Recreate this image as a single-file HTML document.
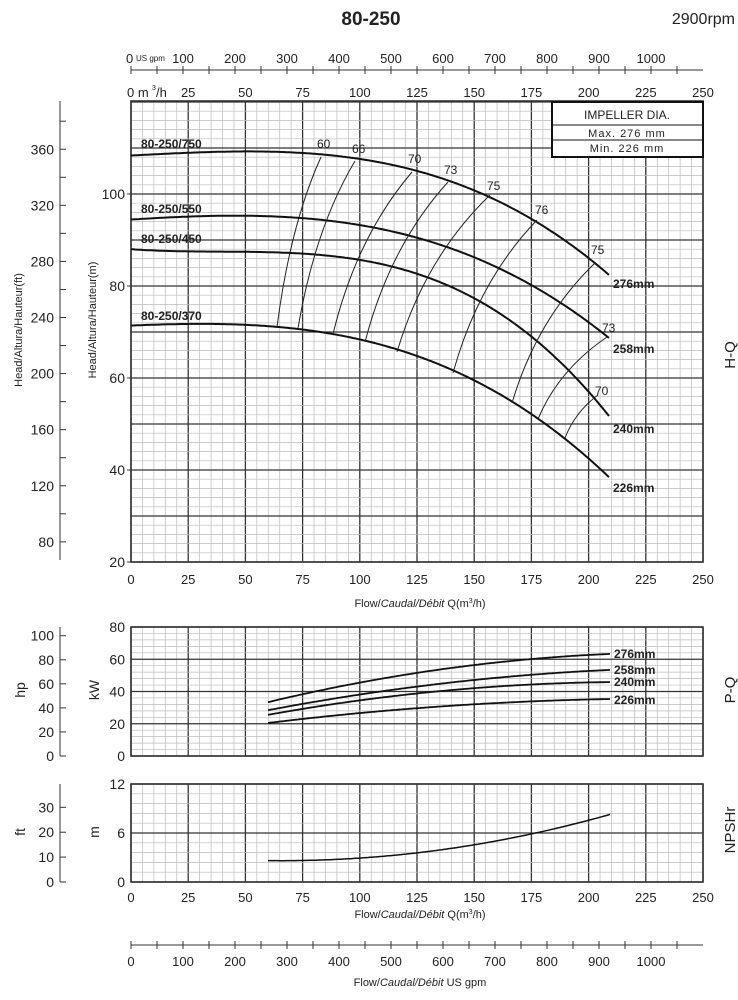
<!DOCTYPE html>
<html><head><meta charset="utf-8"><style>
html,body{margin:0;padding:0;background:#fff}
svg{display:block;font-family:"Liberation Sans",sans-serif}
</style></head><body>
<svg id="s" width="738" height="1000" viewBox="0 0 738 1000" xmlns="http://www.w3.org/2000/svg">
<g id="grid"></g>
<g id="curves" fill="none" stroke="#111" stroke-width="2"></g>
<g id="eff" fill="none" stroke="#222" stroke-width="1"></g>
<g id="txt" fill="#222"></g>
</svg>
<script>
const NS="http://www.w3.org/2000/svg";
function el(p,t,a,txt){const e=document.createElementNS(NS,t);for(const k in a)e.setAttribute(k,a[k]);if(txt!==undefined)e.textContent=txt;document.getElementById(p).appendChild(e);return e;}
function line(p,x1,y1,x2,y2,c,w){el(p,'line',{x1,y1,x2,y2,stroke:c,'stroke-width':w});}
const X0=131,X1=703,px=(X1-X0)/250;
function qx(q){return X0+q*px;}
function grid(top,bot,nMinorY,majorEvery){
  for(let q=0;q<=250;q+=5){const x=qx(q);const maj=q%25==0;line('grid',x,top,x,bot,maj?'#333':'#bbb',maj?1.3:0.7);}
  const h=bot-top;
  for(let i=0;i<=nMinorY;i++){const y=bot-h*i/nMinorY;const maj=i%majorEvery==0;line('grid',X0,y,X1,y,maj?'#333':'#bbb',maj?1.3:0.7);}
  el('grid','rect',{x:X0,y:top,width:X1-X0,height:bot-top,fill:'none',stroke:'#333','stroke-width':1.6});
}
const hy=m=>562-(m-20)*4.6;
(function(){
  for(let q=0;q<=250;q+=5){const x=qx(q);const maj=q%25==0;line('grid',x,101,x,562,maj?'#333':'#bbb',maj?1.3:0.7);}
  for(let m=20;m<=120;m+=2){const y=hy(m);const maj=m%10==0;line('grid',X0,y,X1,y,maj?'#333':'#bbb',maj?1.3:0.7);}
  el('grid','rect',{x:X0,y:101,width:X1-X0,height:461,fill:'none',stroke:'#333','stroke-width':1.6});
})();
grid(627,756,20,5);
grid(784,882,10,5);
function qlabels(y){for(let q=0;q<=250;q+=25)el('txt','text',{x:qx(q),y:y,'text-anchor':'middle','font-size':13},q);}
qlabels(584);qlabels(902);
el('txt','text',{x:127,y:97,'font-size':13},'0 m');el('txt','text',{x:152,y:90,'font-size':7},'3');el('txt','text',{x:156,y:97,'font-size':13},'/h');
for(let q=25;q<=250;q+=25)el('txt','text',{x:qx(q),y:97,'text-anchor':'middle','font-size':13},q);
function gpm(y,ly,top){line('txt',X0,y,X1,y,'#333',1);
  for(let g=0;g<=1050;g+=50){const x=X0+g*0.52;line('txt',x,y-4,x,y+4,'#333',1);}
  for(let g=0;g<=1000;g+=100){if(top&&g==0)continue;el('txt','text',{x:X0+g*0.52,y:ly,'text-anchor':'middle','font-size':13},g);}
}
gpm(70,63,true);gpm(945,966,false);
el('txt','text',{x:126,y:63,'font-size':13},'0');el('txt','text',{x:136,y:61,'font-size':8},'US gpm');
line('txt',60,101,60,560,'#333',1);
for(let ft=80;ft<=380;ft+=20){const y=hy(ft*0.3048);if(y<101)continue;line('txt',60,y,66,y,'#333',1);if(ft%40==0)el('txt','text',{x:54,y:y+5,'text-anchor':'end','font-size':14},ft);}
for(let m=20;m<=100;m+=20){const y=hy(m);line('txt',127,y,131,y,'#333',1);el('txt','text',{x:125,y:y+5,'text-anchor':'end','font-size':14},m);}
line('txt',60,627,60,756,'#333',1);
for(let hp=0;hp<=100;hp+=20){const y=756-hp*0.746*1.6125;line('txt',60,y,66,y,'#333',1);el('txt','text',{x:54,y:y+5,'text-anchor':'end','font-size':14},hp);}
for(let k=0;k<=80;k+=20){const y=756-k*1.6125;el('txt','text',{x:125,y:y+5,'text-anchor':'end','font-size':14},k);}
line('txt',60,784,60,882,'#333',1);
for(let f=0;f<=30;f+=10){const y=882-f*0.3048*8.167;line('txt',60,y,66,y,'#333',1);el('txt','text',{x:54,y:y+5,'text-anchor':'end','font-size':14},f);}
[[0,882],[6,833],[12,784]].forEach(a=>el('txt','text',{x:125,y:a[1]+5,'text-anchor':'end','font-size':14},a[0]));
function rot(x,y,t,fs){el('txt','text',{x:0,y:0,transform:`translate(${x},${y}) rotate(-90)`,'text-anchor':'middle','font-size':fs},t);}
rot(22,330,'Head/Altura/Hauteur(ft)',11);rot(96,320,'Head/Altura/Hauteur(m)',11);
rot(25,690,'hp',14);rot(99,690,'kW',14);rot(25,832,'ft',14);rot(99,832,'m',14);
rot(735,355,'H-Q',15);rot(735,690,'P-Q',15);rot(735,830,'NPSHr',15);
function flow(y,unit){el('txt','text',{x:420,y:y,'text-anchor':'middle','font-size':11},'').innerHTML=unit;}
flow(607,'Flow/<tspan font-style="italic">Caudal/Débit</tspan> Q(m<tspan font-size="7" dy="-4">3</tspan><tspan dy="4">/h)</tspan>');
flow(918,'Flow/<tspan font-style="italic">Caudal/Débit</tspan> Q(m<tspan font-size="7" dy="-4">3</tspan><tspan dy="4">/h)</tspan>');
flow(986,'Flow/<tspan font-style="italic">Caudal/Débit</tspan>  US gpm');
el('txt','text',{x:371,y:25,'text-anchor':'middle','font-size':19,'font-weight':'bold'},'80-250');
el('txt','text',{x:735,y:24,'text-anchor':'end','font-size':16},'2900rpm');
el('txt','rect',{x:552,y:102,width:151,height:55,fill:'#fff',stroke:'#111','stroke-width':2});
line('txt',552,125,703,125,'#111',1);line('txt',552,140,703,140,'#111',1);
el('txt','text',{x:627,y:119,'text-anchor':'middle','font-size':12},'IMPELLER DIA.');
el('txt','text',{x:627,y:137,'text-anchor':'middle','font-size':11,'letter-spacing':'1'},'Max. 276 mm');
el('txt','text',{x:627,y:152,'text-anchor':'middle','font-size':11,'letter-spacing':'1'},'Min.  226 mm');
// least-squares cubic fit y(x)
function fit(pts,deg){const n=deg+1;const A=[...Array(n)].map(()=>Array(n+1).fill(0));
 const x0=pts[0][0];
 pts.forEach(([x,y])=>{const u=(x-x0)/100;for(let i=0;i<n;i++){for(let j=0;j<n;j++)A[i][j]+=Math.pow(u,i+j);A[i][n]+=y*Math.pow(u,i);}});
 for(let i=0;i<n;i++){let p=i;for(let r=i+1;r<n;r++)if(Math.abs(A[r][i])>Math.abs(A[p][i]))p=r;[A[i],A[p]]=[A[p],A[i]];
  for(let r=0;r<n;r++)if(r!=i){const f=A[r][i]/A[i][i];for(let c=i;c<=n;c++)A[r][c]-=f*A[i][c];}}
 const co=A.map((r,i)=>r[n]/r[i]);
 const xs=pts[0][0],xe=pts[pts.length-1][0];let d='';
 for(let x=xs;x<=xe+0.01;x+=2){const u=(x-x0)/100;let y=0;co.forEach((c,i)=>y+=c*Math.pow(u,i));d+=(d?' L':'M')+x.toFixed(1)+','+y.toFixed(1);}
 return d;}
const C=[
 [[131,156],[250,150],[320,153],[370,162],[412,172],[448,182],[490,195],[537,220],[578,250],[610,277]],
 [[131,220],[188,216],[290,217],[330,220],[372,229],[430,241],[530,287],[577,308],[610,342]],
 [[131,251],[188,249],[250,250],[300,254],[360,263],[430,279],[530,333],[580,380],[610,420]],
 [[131,326],[188,323],[250,325],[300,330],[360,340],[400,350],[430,361],[470,377],[530,413],[580,453],[610,477]]];
C.forEach(p=>el('curves','path',{d:fit(p,3)}));
const P=[[[268,702],[360,683],[480,664],[610,654]],[[268,710],[360,695],[480,679],[610,670]],[[268,715],[360,700],[480,688],[610,682]],[[268,723],[360,713],[480,704],[610,699]]];
P.forEach(p=>el('curves','path',{d:fit(p,2),'stroke-width':1.8}));
el('curves','path',{d:fit([[268,861],[360,857],[418,853],[473,845],[530,835],[582,822],[610,814]],2),'stroke-width':1.5});
const E=[[[277,327],[321,157]],[[298,328],[355,161]],[[333,334],[412,172]],[[365,342],[448,182]],[[397,352],[490,195]],[[453,373],[537,220]],[[512,403],[595,263]],[[538,419],[607,337]],[[565,438],[598,395]]];
E.forEach(([b,t])=>{const cx=b[0]+0.3*(t[0]-b[0]),cy=b[1]-0.6*(b[1]-t[1]);el('eff','path',{d:`M${b[0]},${b[1]} Q${cx},${cy} ${t[0]},${t[1]}`});});
[[323,148,60],[358,153,66],[414,163,70],[450,174,73],[493,190,75],[541,214,76],[597,254,75],[608,332,73],[601,395,70]].forEach(a=>el('txt','text',{x:a[0]-6,y:a[1],'font-size':12},a[2]));
[[141,148,'80-250/750'],[141,213,'80-250/550'],[141,243,'80-250/450'],[141,320,'80-250/370']].forEach(a=>el('txt','text',{x:a[0],y:a[1],'font-size':12,'font-weight':'bold'},a[2]));
[[613,288,'276mm'],[613,353,'258mm'],[613,433,'240mm'],[613,492,'226mm'],[614,658,'276mm'],[614,674,'258mm'],[614,686,'240mm'],[614,704,'226mm']].forEach(a=>el('txt','text',{x:a[0],y:a[1],'font-size':12,'font-weight':'bold'},a[2]));
</script>
</body></html>
